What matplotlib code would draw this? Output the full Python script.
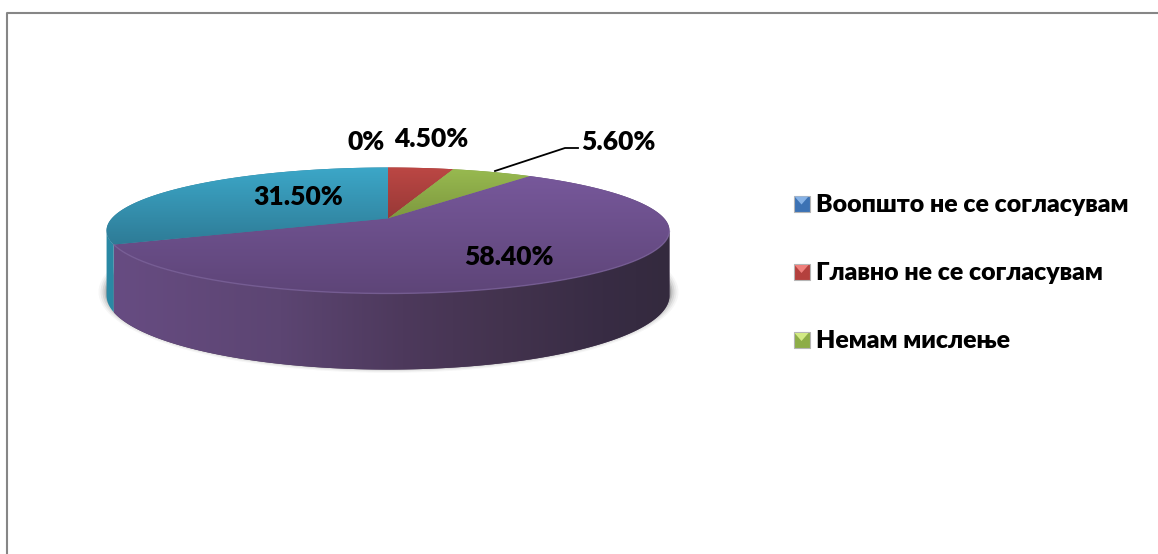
import numpy as np
import matplotlib
matplotlib.use("Agg")
import matplotlib.pyplot as plt
from matplotlib.patches import Polygon, Ellipse, Rectangle
from matplotlib.colors import LinearSegmentedColormap

# ---- data ----
categories = ["Воопшто не се согласувам", "Главно не се согласувам", "Немам мислење",
              "Се согласувам", "Целосно се согласувам"]
values = [0.0, 4.5, 5.6, 58.4, 31.5]
value_labels = ["0%", "4.50%", "5.60%", "58.40%", "31.50%"]
legend_entries = categories[:3]

# ---- style ----
W, H = 1158, 554
APEX = (388.0, 218.5)
PERSP, A, D = 0.1905, 60.7, 276.3
TOP_COLORS = {1: ("#BC4744", "#983937"), 2: ("#98BA50", "#7E993F"),
              3: ("#77589B", "#5E4578"), 4: ("#3CA7C8", "#2E7B96")}
LEG_COLORS = [("#86B2E6", "#3C72B4"), ("#F0807C", "#B4403D"), ("#D2EA84", "#8DAD47")]
FONT = "Lato"
FONT_W = 800

fig = plt.figure(figsize=(W / 100, H / 100), dpi=100)
ax = fig.add_axes([0, 0, 1, 1])
ax.set_xlim(0, W)
ax.set_ylim(H, 0)
ax.axis("off")


def rim(theta_deg):
    t = np.radians(theta_deg)
    u, v = np.sin(t), np.cos(t)
    den = 1 + PERSP * v
    return APEX[0] + D * u / den, APEX[1] - A * v / den


def lower(y):
    return 295 + (y - 230) * 74 / 63


# frame
ax.plot([W + 5, 7, 7], [13, 13, H + 5], color="#868686", lw=1.5, zorder=1)

# shadow
for grow, alpha in [(8, .05), (6, .08), (4, .12), (2, .18), (0.5, .25)]:
    ax.add_patch(Ellipse((388.5, 292), 2 * (282 + grow), 2 * (76 + grow * .6),
                         fc="#555555", ec="none", alpha=alpha, zorder=2))

pct = np.array(values)
edges = np.concatenate([[0], np.cumsum(pct)]) / pct.sum() * 360
order = [1, 2, 3, 4]


def clipped_gradient(poly, colors, horizontal, zorder):
    ax.add_patch(poly)
    cmap = LinearSegmentedColormap.from_list("g", colors)
    pts = poly.get_xy()
    ramp = np.linspace(0, 1, 256)
    if horizontal:
        arr = ramp.reshape(1, -1)
        ext = [pts[:, 0].min(), pts[:, 0].max(), pts[:, 1].max(), pts[:, 1].min()]
    else:
        arr = ramp.reshape(-1, 1)
        ext = [95, 680, pts[:, 1].max(), pts[:, 1].min()]
    im = ax.imshow(arr, cmap=cmap, aspect="auto", extent=ext, zorder=zorder,
                   interpolation="bilinear")
    im.set_clip_path(poly)


# side walls
side_stops = [(0.0, "#674C82"), (0.3, "#5C4572"), (0.52, "#4D395C"), (0.7, "#43334E"),
              (0.88, "#382C44"), (1.0, "#342A3E")]
for i in order[2:]:
    th = np.linspace(edges[i], edges[i + 1], 500)
    xs, ys = rim(th)
    keep = ys >= 229.5
    xs, ys = xs[keep], ys[keep]
    pts = np.column_stack([np.r_[xs, xs[::-1]], np.r_[ys, lower(ys[::-1])]])
    if i == 3:
        poly = Polygon(pts, closed=True, fc="#4D395C", ec="none", zorder=3)
        clipped_gradient(poly, side_stops, True, 3)
    else:
        ax.add_patch(Polygon(pts, closed=True, fc="#2A88A4", ec="none", zorder=3))

# top surface
for i in order:
    th = np.linspace(edges[i], edges[i + 1], 200)
    xs, ys = rim(th)
    pts = np.column_stack([np.r_[APEX[0], xs], np.r_[APEX[1], ys]])
    c0, c1 = TOP_COLORS[i]
    poly = Polygon(pts, closed=True, fc=c1, ec="none", zorder=4)
    clipped_gradient(poly, [c0, c1], False, 5)
ax.set_xlim(0, W)
ax.set_ylim(H, 0)

# bevel highlight on the front rim
th = np.linspace(edges[3] + 0.2, edges[4] - 0.2, 300)
xs, ys = rim(th)
front = ys >= 231
ax.plot(xs[front], ys[front], color="#7D649C", lw=1.0, alpha=.75, zorder=6)

# value labels
label_pos = [(366, 142), (431, 139), (618, 142), (509, 257), (298, 197)]
for lab, (x, y) in zip(value_labels, label_pos):
    ax.text(x, y, lab, ha="center", va="center", fontsize=19, fontweight=FONT_W,
            family=FONT, color="black", zorder=8)

# leader line
ax.plot([495, 565, 578], [171, 148, 148], color="black", lw=1.3, zorder=7)

# legend
leg_y = [203.5, 272, 340]
for name, y, (light, dark) in zip(legend_entries, leg_y, LEG_COLORS):
    x0, s = 793.5, 16
    ax.add_patch(Rectangle((x0, y - s / 2), s, s, fc=dark, ec="#B5B5B5", lw=.8, zorder=7))
    ax.add_patch(Polygon([(x0 + 1, y - s / 2 + 1), (x0 + s - 1, y - s / 2 + 1), (x0 + s / 2, y + 1)],
                         closed=True, fc=light, ec="none", zorder=8))
    ax.text(816, y + 1, name, ha="left", va="center", fontsize=17.9, fontweight=FONT_W,
            family=FONT, color="black", zorder=8)

fig.savefig("out.png", dpi=100, facecolor="white")
